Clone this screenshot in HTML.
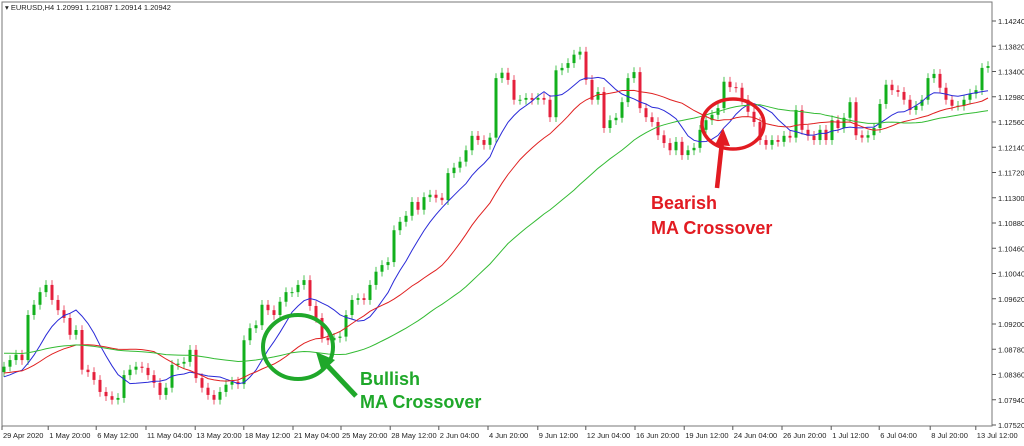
<!DOCTYPE html>
<html><head><meta charset="utf-8">
<style>
html,body{margin:0;padding:0;background:#fff;}
body{width:1024px;height:441px;overflow:hidden;font-family:"Liberation Sans",sans-serif;}
svg text{font-family:"Liberation Sans",sans-serif;}
</style></head>
<body>
<svg id="chart" width="1024" height="441" viewBox="0 0 1024 441" xmlns="http://www.w3.org/2000/svg">
  <rect x="0" y="0" width="1024" height="441" fill="#fff"/>
  <g id="plot"></g>
  <path d="M2,426 L2,2 L992,2 L992,426 Z" fill="none" stroke="#777" stroke-width="1"/>
  <g id="yaxis"></g>
  <g id="xaxis"></g>
  <text x="5" y="10" font-size="7.5" fill="#222">▾ EURUSD,H4  1.20991 1.21087 1.20914 1.20942</text>
  <g id="annot">
    <ellipse cx="298" cy="347" rx="35" ry="32" fill="none" stroke="#1fa82a" stroke-width="4"/>
    <line x1="356" y1="396" x2="324" y2="362" stroke="#1fa82a" stroke-width="5"/>
    <polygon points="316,352 335,360 322,372" fill="#1fa82a"/>
    <text x="360" y="385" font-size="18" font-weight="bold" fill="#1fa82a">Bullish</text>
    <text x="360" y="408" font-size="18" font-weight="bold" fill="#1fa82a">MA Crossover</text>
    <ellipse cx="733" cy="124" rx="31" ry="25" fill="none" stroke="#e21b22" stroke-width="3.5"/>
    <line x1="717" y1="188" x2="722" y2="142" stroke="#e21b22" stroke-width="4.5"/>
    <polygon points="723,128 715,145 730,146" fill="#e21b22"/>
    <text x="651" y="209" font-size="18" font-weight="bold" fill="#e21b22">Bearish</text>
    <text x="651" y="234" font-size="18" font-weight="bold" fill="#e21b22">MA Crossover</text>
  </g>
</svg>
<script>
const closes = [1.0849,1.0860,1.0869,1.0860,1.0935,1.0952,1.0973,1.0985,1.0960,1.0943,
1.0930,1.0902,1.0910,1.0844,1.0840,1.0827,1.0807,1.0800,1.0794,1.0797,
1.0835,1.0844,1.0849,1.0847,1.0835,1.0822,1.0802,1.0814,1.0852,1.0854,
1.0857,1.0877,1.0830,1.0814,1.0802,1.0794,1.0807,1.0819,1.0824,1.0820,
1.0893,1.0913,1.0918,1.0952,1.0943,1.0935,1.0957,1.0973,1.0973,1.0985,
1.0993,1.0950,1.0930,1.0897,1.0893,1.0897,1.0899,1.0935,1.0960,1.0963,
1.0960,1.0985,1.1007,1.1018,1.1023,1.1076,1.1090,1.1100,1.1123,1.1110,
1.1131,1.1135,1.1130,1.1126,1.1171,1.1180,1.1190,1.1209,1.1233,1.1226,
1.1218,1.1230,1.1329,1.1338,1.1326,1.1293,1.1293,1.1296,1.1293,1.1296,
1.1293,1.1264,1.1342,1.1346,1.1354,1.1368,1.1373,1.1326,1.1293,1.1306,
1.1246,1.1259,1.1263,1.1289,1.1329,1.1339,1.1279,1.1264,1.1256,1.1234,
1.1221,1.1209,1.1223,1.1201,1.1209,1.1213,1.1243,1.1259,1.1268,1.1279,
1.1323,1.1314,1.1313,1.1293,1.1273,1.1256,1.1226,1.1218,1.1226,1.1223,
1.1233,1.1230,1.1276,1.1243,1.1233,1.1226,1.1243,1.1226,1.1259,1.1246,
1.1263,1.1289,1.1234,1.1230,1.1234,1.1246,1.1286,1.1318,1.1309,1.1306,
1.1293,1.1276,1.1283,1.1293,1.1329,1.1336,1.1313,1.1293,1.1283,1.1283,
1.1293,1.1303,1.1309,1.1346,1.1349];
const firstOpen = 1.0840;
const wickSize = 0.0008;
const maPeriods = [9, 22, 45];
const maSeeds = [1.0830, 1.0838, 1.0872];
const maColors = ['#2a2ad8', '#e02020', '#33bb33'];
const priceTicks = [1.14240,1.13820,1.13400,1.12980,1.12560,1.12140,1.11720,1.11300,1.10880,1.10460,1.10040,1.09620,1.09200,1.08780,1.08360,1.07940,1.07520];
const timeLabels = ['29 Apr 2020','1 May 20:00','6 May 12:00','11 May 04:00','13 May 20:00','18 May 12:00','21 May 04:00','25 May 20:00','28 May 12:00','2 Jun 04:00','4 Jun 20:00','9 Jun 12:00','12 Jun 04:00','16 Jun 20:00','19 Jun 12:00','24 Jun 04:00','26 Jun 20:00','1 Jul 12:00','6 Jul 04:00','8 Jul 20:00','13 Jul 12:00'];
const timeLabelBars = [0,7.7,15.7,24,32.2,40.3,48.5,56.5,64.7,72.8,81,89.3,97.3,105.5,113.7,121.8,130,138.2,146.2,154.7,162.3];

const NS = 'http://www.w3.org/2000/svg';
const yScale = p => 21 + (1.14240 - p) / 0.0042 * 25.25;
const xScale = i => 4 + i * 6;
function mk(tag, attrs, parent){ const e = document.createElementNS(NS, tag); for (const k in attrs) e.setAttribute(k, attrs[k]); parent.appendChild(e); return e; }

const plot = document.getElementById('plot');
for (let i = 0; i < closes.length; i++) {
  const o = i === 0 ? firstOpen : closes[i-1];
  const c = closes[i];
  const hi = Math.max(o, c) + wickSize, lo = Math.min(o, c) - wickSize;
  const up = c >= o;
  const col = up ? '#12b01c' : '#e5203c';
  const x = xScale(i);
  const w = mk('line', {x1:x, x2:x, y1:yScale(hi), y2:yScale(lo), stroke:col, 'stroke-width':1, opacity:0.75}, plot);
  
  
  const top = yScale(Math.max(o, c)), bot = yScale(Math.min(o, c));
  const b = mk('rect', {x:x-1.5, y:top, width:3, height:Math.max(1, bot-top), fill:col}, plot);
  
  
}
// simple moving averages, history padded with seed value
maPeriods.forEach((n, k) => {
  const pts = [];
  closes.forEach((c, i) => {
    let s = 0;
    for (let j = i - n + 1; j <= i; j++) s += j >= 0 ? closes[j] : maSeeds[k];
    pts.push(xScale(i).toFixed(1) + ',' + yScale(s / n).toFixed(1));
  });
  const pl = mk('polyline', {points: pts.join(' '), fill:'none', stroke:maColors[k], 'stroke-width':1}, plot);
  
  
});
const ya = document.getElementById('yaxis');
priceTicks.forEach(p => {
  const y = yScale(p);
  const t = mk('line', {x1:992, x2:996, y1:y, y2:y, stroke:'#555'}, ya);
  
  
  const tx = mk('text', {x:998, y:y+3, 'font-size':7.5, fill:'#222'}, ya);
  tx.textContent = p.toFixed(5);
  
  
});
const xa = document.getElementById('xaxis');
timeLabels.forEach((lab, i) => {
  const x = xScale(timeLabelBars[i]) - 2;
  const t = mk('line', {x1:x, x2:x, y1:426, y2:430, stroke:'#555'}, xa);
  
  
  const tx = mk('text', {x:x+1, y:438, 'font-size':7.5, fill:'#222'}, xa);
  tx.textContent = lab;
  
  
});
</script>
</body></html>
